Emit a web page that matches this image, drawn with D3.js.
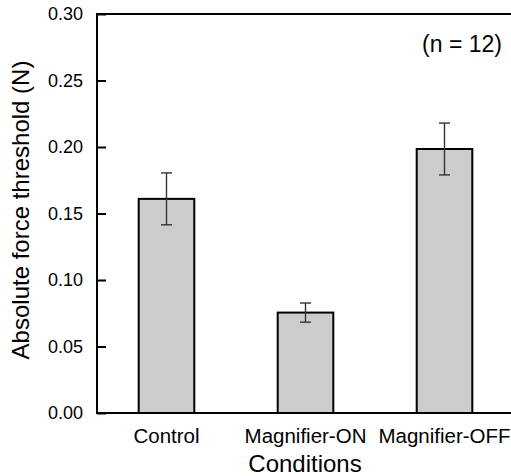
<!DOCTYPE html>
<html>
<head>
<meta charset="utf-8">
<script src="https://cdn.jsdelivr.net/npm/d3@7"></script>
<style>
  html, body { margin: 0; padding: 0; background: #fff; }
  svg { display: block; font-family: "Liberation Sans", Arial, sans-serif; }
</style>
</head>
<body>
<svg id="chart" width="511" height="476"></svg>
<script>
const categories = ["Control", "Magnifier-ON", "Magnifier-OFF"];
const means = [0.161, 0.0755, 0.1985];
const errors = [0.0195, 0.0072, 0.0195];
const yTicks = [0.00, 0.05, 0.10, 0.15, 0.20, 0.25, 0.30];
const yLabel = "Absolute force threshold (N)";
const xLabel = "Conditions";
const note = "(n = 12)";

(function () {
const svg = d3.select("#chart");
const mLeft = 97, mRight = 514, mTop = 14, mBottom = 413;

const x = d3.scaleBand().domain(categories).range([mLeft, mRight])
  .paddingInner(0.6).paddingOuter(0.3);
const y = d3.scaleLinear().domain([0, 0.30]).range([mBottom, mTop]);

const data = categories.map((c, i) => ({c, m: means[i], e: errors[i]}));

// bars
svg.append("g").selectAll("rect").data(data).join("rect")
  .attr("x", d => x(d.c))
  .attr("y", d => y(d.m))
  .attr("width", x.bandwidth())
  .attr("height", d => y(0) - y(d.m))
  .attr("fill", "#cccccc")
  .attr("stroke", "#000")
  .attr("stroke-width", 2);

// error bars
const eg = svg.append("g").attr("stroke", "#333").attr("stroke-width", 1.4).attr("fill", "none");
const cap = 5.5;
data.forEach(d => {
  const cx = x(d.c) + x.bandwidth() / 2;
  eg.append("line").attr("x1", cx).attr("x2", cx).attr("y1", y(d.m + d.e)).attr("y2", y(d.m - d.e));
  eg.append("line").attr("x1", cx - cap).attr("x2", cx + cap).attr("y1", y(d.m + d.e)).attr("y2", y(d.m + d.e));
  eg.append("line").attr("x1", cx - cap).attr("x2", cx + cap).attr("y1", y(d.m - d.e)).attr("y2", y(d.m - d.e));
});

// frame
svg.append("rect")
  .attr("x", mLeft).attr("y", mTop)
  .attr("width", mRight - mLeft).attr("height", mBottom - mTop)
  .attr("fill", "none").attr("stroke", "#000").attr("stroke-width", 2);

// y axis (ticks inward)
const yAxis = d3.axisLeft(y).tickValues(yTicks).tickFormat(d3.format(".2f"))
  .tickSizeInner(-9).tickSizeOuter(0).tickPadding(14);
const ya = svg.append("g").attr("transform", `translate(${mLeft},0)`).call(yAxis);
ya.select(".domain").remove();
ya.selectAll(".tick line").attr("stroke", "#000").attr("stroke-width", 2);
ya.selectAll(".tick text").attr("font-size", 18).attr("fill", "#000")
  .attr("font-family", "Liberation Sans, Arial, sans-serif");

// x axis labels
const xAxis = d3.axisBottom(x).tickSize(0).tickPadding(15);
const xa = svg.append("g").attr("transform", `translate(0,${mBottom})`).call(xAxis);
xa.select(".domain").remove();
xa.selectAll(".tick text").attr("font-size", 20.5).attr("fill", "#000")
  .attr("font-family", "Liberation Sans, Arial, sans-serif");

// axis titles
svg.append("text")
  .attr("x", 305).attr("y", 472)
  .attr("text-anchor", "middle")
  .attr("font-size", 24).attr("fill", "#000")
  .text(xLabel);

svg.append("text")
  .attr("transform", "translate(29,210) rotate(-90)")
  .attr("text-anchor", "middle")
  .attr("font-size", 24).attr("fill", "#000")
  .text(yLabel);

svg.append("text")
  .attr("x", 502).attr("y", 52)
  .attr("text-anchor", "end")
  .attr("font-size", 23).attr("fill", "#000")
  .text(note);
})();
</script>
</body>
</html>
